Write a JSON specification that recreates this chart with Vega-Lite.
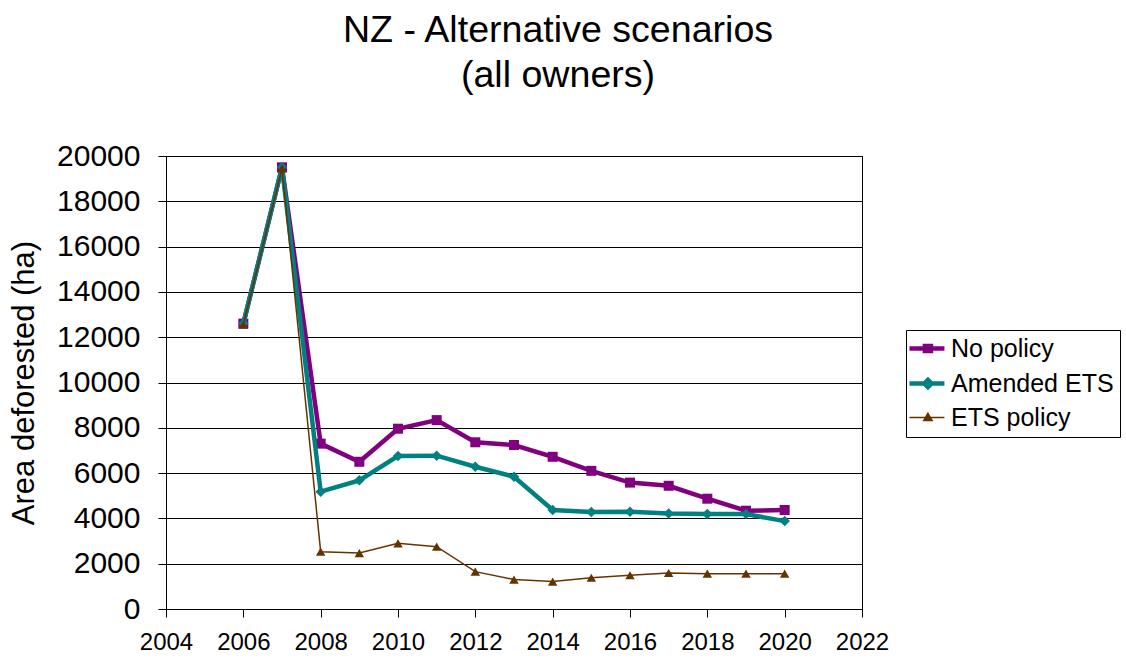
{
  "$schema": "https://vega.github.io/schema/vega-lite/v6.json",
  "width": 696,
  "height": 453,
  "autosize": {"type": "none"},
  "padding": {"left": 166, "top": 156, "right": 264, "bottom": 51},
  "background": "white",
  "config": {
    "font": "Liberation Sans",
    "view": {"stroke": "black", "strokeWidth": 1},
    "axis": {"labelColor": "black", "titleColor": "black", "domainColor": "black", "tickColor": "black", "labelFont": "Liberation Sans", "titleFont": "Liberation Sans", "titleFontWeight": "normal"}
  },
  "title": {
    "text": ["NZ - Alternative scenarios", "(all owners)"],
    "font": "Liberation Sans",
    "fontSize": 37.6,
    "fontWeight": "normal",
    "color": "black",
    "anchor": "middle",
    "frame": "group",
    "dx": 44,
    "offset": 46,
    "lineHeight": 45
  },
  "data": {
    "values": [
      {"year": 2006, "series": "No policy", "value": 12600},
      {"year": 2007, "series": "No policy", "value": 19500},
      {"year": 2008, "series": "No policy", "value": 7300},
      {"year": 2009, "series": "No policy", "value": 6500},
      {"year": 2010, "series": "No policy", "value": 7960},
      {"year": 2011, "series": "No policy", "value": 8340},
      {"year": 2012, "series": "No policy", "value": 7360},
      {"year": 2013, "series": "No policy", "value": 7240},
      {"year": 2014, "series": "No policy", "value": 6720},
      {"year": 2015, "series": "No policy", "value": 6100},
      {"year": 2016, "series": "No policy", "value": 5580},
      {"year": 2017, "series": "No policy", "value": 5440},
      {"year": 2018, "series": "No policy", "value": 4870},
      {"year": 2019, "series": "No policy", "value": 4340},
      {"year": 2020, "series": "No policy", "value": 4370},
      {"year": 2006, "series": "Amended ETS", "value": 12600},
      {"year": 2007, "series": "Amended ETS", "value": 19500},
      {"year": 2008, "series": "Amended ETS", "value": 5180},
      {"year": 2009, "series": "Amended ETS", "value": 5680},
      {"year": 2010, "series": "Amended ETS", "value": 6750},
      {"year": 2011, "series": "Amended ETS", "value": 6770},
      {"year": 2012, "series": "Amended ETS", "value": 6280},
      {"year": 2013, "series": "Amended ETS", "value": 5840},
      {"year": 2014, "series": "Amended ETS", "value": 4370},
      {"year": 2015, "series": "Amended ETS", "value": 4280},
      {"year": 2016, "series": "Amended ETS", "value": 4290},
      {"year": 2017, "series": "Amended ETS", "value": 4220},
      {"year": 2018, "series": "Amended ETS", "value": 4190},
      {"year": 2019, "series": "Amended ETS", "value": 4190},
      {"year": 2020, "series": "Amended ETS", "value": 3880},
      {"year": 2006, "series": "ETS policy", "value": 12550},
      {"year": 2007, "series": "ETS policy", "value": 19450},
      {"year": 2008, "series": "ETS policy", "value": 2530},
      {"year": 2009, "series": "ETS policy", "value": 2470},
      {"year": 2010, "series": "ETS policy", "value": 2900},
      {"year": 2011, "series": "ETS policy", "value": 2750},
      {"year": 2012, "series": "ETS policy", "value": 1650},
      {"year": 2013, "series": "ETS policy", "value": 1300},
      {"year": 2014, "series": "ETS policy", "value": 1210},
      {"year": 2015, "series": "ETS policy", "value": 1380},
      {"year": 2016, "series": "ETS policy", "value": 1490},
      {"year": 2017, "series": "ETS policy", "value": 1590},
      {"year": 2018, "series": "ETS policy", "value": 1560},
      {"year": 2019, "series": "ETS policy", "value": 1560},
      {"year": 2020, "series": "ETS policy", "value": 1560}
    ]
  },
  "encoding": {
    "x": {
      "field": "year",
      "type": "quantitative",
      "scale": {"domain": [2004, 2022], "nice": false, "zero": false},
      "axis": {"title": null, "values": [2004, 2006, 2008, 2010, 2012, 2014, 2016, 2018, 2020, 2022], "format": "d", "grid": false, "labelFontSize": 24, "tickSize": 8, "labelPadding": 13, "labelFlush": false, "labelOverlap": false}
    },
    "y": {
      "field": "value",
      "type": "quantitative",
      "scale": {"domain": [0, 20000], "nice": false},
      "axis": {"title": "Area deforested (ha)", "titleFontSize": 31, "titlePadding": 16, "values": [0, 2000, 4000, 6000, 8000, 10000, 12000, 14000, 16000, 18000, 20000], "format": "d", "grid": true, "gridColor": "black", "gridOpacity": 1, "gridWidth": 1, "labelFontSize": 30, "tickSize": 8, "labelPadding": 18, "labelOverlap": false}
    },
    "color": {
      "field": "series",
      "type": "nominal",
      "scale": {"domain": ["No policy", "Amended ETS", "ETS policy"], "range": ["#800080", "#008080", "#663300"]},
      "legend": {
        "title": null,
        "orient": "none",
        "legendX": 740,
        "legendY": 174,
        "direction": "vertical",
        "strokeColor": "black",
        "fillColor": "white",
        "padding": 6,
        "labelFontSize": 25,
        "labelFont": "Liberation Sans",
        "labelColor": "black",
        "labelLimit": 400,
        "labelOffset": 14,
        "rowPadding": 8,
        "symbolSize": 1444,
        "symbolOpacity": 1,
        "encode": {
          "symbols": {
            "update": {
              "shape": {"signal": "datum.value === 'No policy' ? 'M-0.79,0H1.05M0.02,-0.13H0.34V0.13H0.02Z' : (datum.value === 'Amended ETS' ? 'M-0.79,0H1.05M0.18,-0.19L0.37,0L0.18,0.19L-0.01,0Z' : 'M-0.79,0H1.05M0.18,-0.22L0.4,0.16L-0.04,0.16Z')"},
              "strokeWidth": {"signal": "datum.value === 'ETS policy' ? 1.5 : 4.5"},
              "fill": {"signal": "scale('color', datum.value)"},
              "stroke": {"signal": "scale('color', datum.value)"},
              "opacity": {"value": 1},
              "fillOpacity": {"value": 1},
              "strokeOpacity": {"value": 1}
            }
          }
        }
      }
    }
  },
  "layer": [
    {"transform": [{"filter": "datum.series === 'No policy'"}], "mark": {"type": "line", "strokeWidth": 4.5}},
    {"transform": [{"filter": "datum.series === 'No policy'"}], "mark": {"type": "point", "shape": "square", "filled": true, "size": 100, "opacity": 1}},
    {"transform": [{"filter": "datum.series === 'Amended ETS'"}], "mark": {"type": "line", "strokeWidth": 4.5}},
    {"transform": [{"filter": "datum.series === 'Amended ETS'"}], "mark": {"type": "point", "shape": "diamond", "filled": true, "size": 110, "opacity": 1}},
    {"transform": [{"filter": "datum.series === 'ETS policy'"}], "mark": {"type": "line", "strokeWidth": 1.5}},
    {"transform": [{"filter": "datum.series === 'ETS policy'"}], "mark": {"type": "point", "shape": "triangle-up", "filled": true, "size": 90, "opacity": 1}}
  ]
}
